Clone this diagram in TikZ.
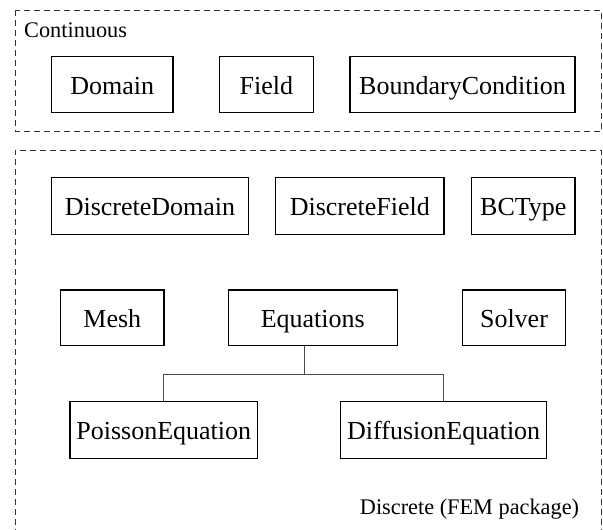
\documentclass[tikz,border=0pt]{standalone}
\usepackage{fontspec}
\setmainfont{Liberation Serif}
\begin{document}
\begin{tikzpicture}[x=1pt,y=-1pt,
  box/.style={draw=black,line width=1.4pt,inner sep=0pt,text height=22pt,text depth=3.4pt,font=\fontsize{26}{30}\selectfont},
  frame/.style={draw=black!80,line width=0.9pt,dash pattern=on 6pt off 4pt},
  lbl/.style={inner sep=0pt,font=\fontsize{22.3}{26}\selectfont},
  conn/.style={draw=black!70,line width=1pt}]
\useasboundingbox (0,0) rectangle (603,530);
% frames
\draw[frame] (15,10) rectangle (601.5,131);
\begin{scope}
\clip (0,0) rectangle (603,530);
\draw[frame] (15,535) -- (15,150) -- (601.5,150) -- (601.5,535);
\end{scope}
\node[lbl,anchor=base west] (lcont) at (24,37) {Continuous};
\node[lbl,anchor=base east] (ldisc) at (579.3,514) {Discrete (FEM package)};
% row 1
\node[box,minimum width=121.3pt,minimum height=56pt] (domain) at (112.3,84.7) {Domain};
\node[box,minimum width=94pt,minimum height=56pt] (field) at (266.3,84.7) {Field};
\node[box,minimum width=225pt,minimum height=56pt] (bc) at (462.5,84.7) {BoundaryCondition};
% row 2
\node[box,minimum width=196.6pt,minimum height=56.6pt] (ddomain) at (150,206) {DiscreteDomain};
\node[box,minimum width=168.3pt,minimum height=56.6pt] (dfield) at (359.8,206) {DiscreteField};
\node[box,minimum width=103.3pt,minimum height=56.6pt] (bctype) at (523.3,206) {BCType};
% row 3
\node[box,minimum width=103.3pt,minimum height=55.5pt] (mesh) at (112.3,317.7) {Mesh};
\node[box,minimum width=169pt,minimum height=55.5pt] (eqs) at (312.8,317.7) {Equations};
\node[box,minimum width=103.4pt,minimum height=55.5pt] (solver) at (514,317.7) {Solver};
% row 4
\node[box,minimum width=187.7pt,minimum height=56.6pt] (poisson) at (163.8,430) {PoissonEquation};
\node[box,minimum width=206pt,minimum height=56.6pt] (diff) at (443.7,430) {DiffusionEquation};
% connectors
\coordinate (j) at (304,374);
\draw[conn] (eqs.south -| j) -- (j);
\draw[conn] (j) -| (poisson.north);
\draw[conn] (j) -| (diff.north);
\end{tikzpicture}
\end{document}
